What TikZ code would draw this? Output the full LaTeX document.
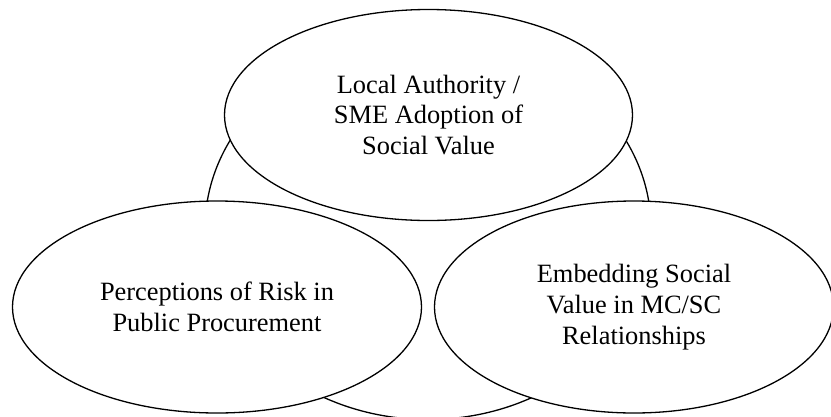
\documentclass[tikz,border=0pt]{standalone}
\usepackage{fontspec}
\setmainfont{Liberation Serif}
\usetikzlibrary{shapes.geometric}
\begin{document}
\begin{tikzpicture}[x=1pt,y=-1pt,
  blob/.style={ellipse,draw=black,line width=1.3pt,fill=white,inner sep=0pt,
    align=center,font=\fontsize{26.4}{30.8}\selectfont}]
\useasboundingbox (0,0) rectangle (831,416);
\node[blob,minimum width=446pt,minimum height=382pt] (ring) at (428,228.5) {};
\node[blob,minimum width=408pt,minimum height=211pt] (top) at (428.5,115)
  {Local Authority /\\SME Adoption of\\Social Value};
\node[blob,minimum width=409pt,minimum height=212pt] (left) at (217,307)
  {Perceptions of Risk in\\Public Procurement};
\node[blob,minimum width=399pt,minimum height=212pt] (right) at (634,307)
  {Embedding Social\\Value in MC/SC\\Relationships};
\end{tikzpicture}
\end{document}
